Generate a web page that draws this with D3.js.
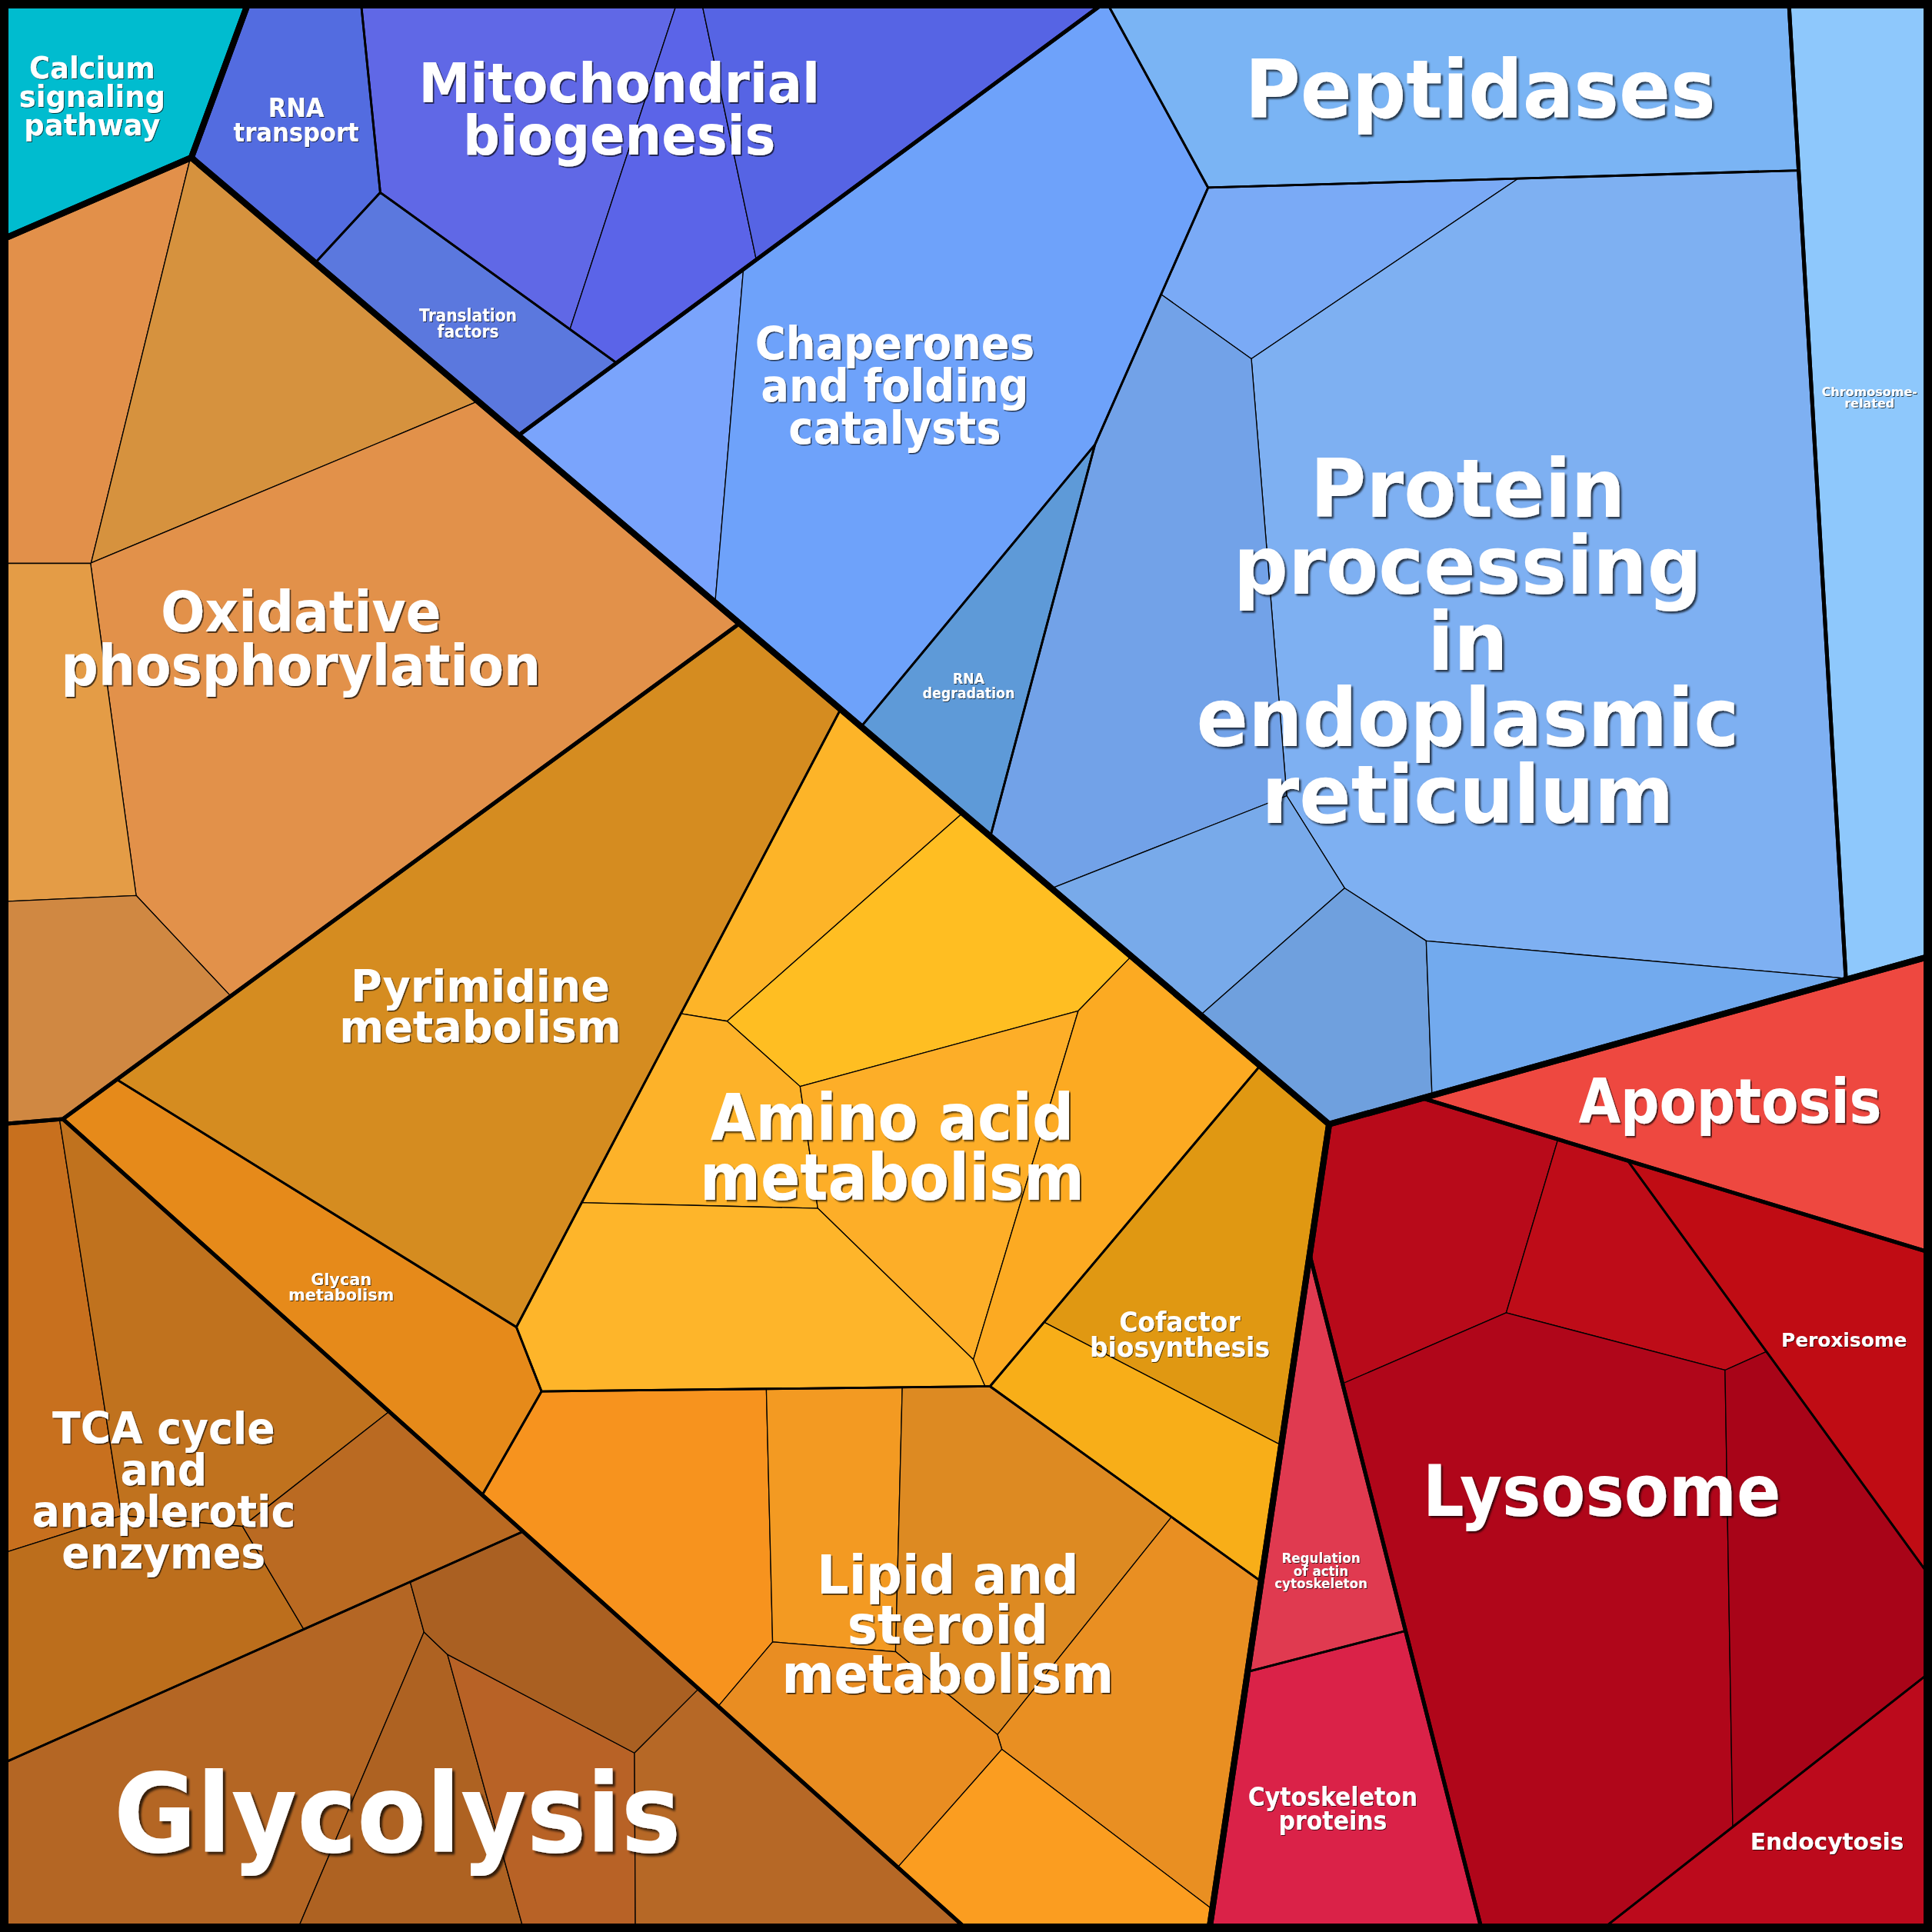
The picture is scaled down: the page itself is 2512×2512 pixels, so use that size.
<!DOCTYPE html>
<html>
<head>
<meta charset="utf-8">
<script src="https://cdn.jsdelivr.net/npm/d3@7"></script>
<style>
  html, body { margin: 0; padding: 0; background: #fff; }
</style>
</head>
<body>
<div id="chart"></div>
<script>
// proteome map: top categories -> subcategories -> pathways -> protein cells

const topCategories = ["Environmental information processing", "Genetic information processing", "Metabolism", "Cellular processes"];

const subCategories = ["Signal transduction", "Translation", "Folding, sorting and degradation", "Replication and repair",
  "Energy metabolism", "Biosynthesis", "Central carbon metabolism",
  "Cell growth and death", "Transport and catabolism", "Cell motility"];
const subCategoryParent = [0, 1, 1, 1, 2, 2, 2, 3, 3, 3];

const pathwayLabels = ["Calcium\nsignaling\npathway", "RNA\ntransport", "Translation\nfactors", "Mitochondrial\nbiogenesis",
  "Chaperones\nand folding\ncatalysts", "RNA\ndegradation", "Peptidases", "Protein\nprocessing\nin\nendoplasmic\nreticulum",
  "Chromosome-\nrelated", "Oxidative\nphosphorylation", "Pyrimidine\nmetabolism", "Glycan\nmetabolism",
  "Amino acid\nmetabolism", "Cofactor\nbiosynthesis", "Lipid and\nsteroid\nmetabolism", "TCA cycle\nand\nanaplerotic\nenzymes",
  "Glycolysis", "Apoptosis", "Lysosome", "Peroxisome", "Endocytosis", "Regulation\nof actin\ncytoskeleton", "Cytoskeleton\nproteins"];
const pathwayParent = [0, 1, 1, 1, 2, 2, 2, 2, 3, 4, 5, 5, 5, 5, 5, 6, 6, 7, 8, 8, 8, 9, 9];

// one entry per protein cell
const cellPathway = [0, 1, 2, 3, 3, 3, 4, 4, 5, 6, 7, 7, 7, 7, 7, 7, 8,
  9, 9, 9, 9, 9, 10, 11, 12, 12, 12, 12, 12, 12, 13, 13, 14, 14, 14, 14, 14, 14,
  15, 15, 15, 15, 16, 16, 16, 16, 16, 17, 18, 18, 18, 18, 19, 20, 21, 22];
const cellValue = [280, 226, 195, 454, 228, 347, 231, 1305, 204, 752, 217, 2619, 719, 211, 224, 214, 731,
  323, 463, 1405, 250, 238, 1401, 390, 214, 365, 200, 346, 311, 441, 369, 206, 402, 220, 395, 368, 232, 211,
  250, 424, 317, 202, 601, 240, 211, 206, 305, 498, 322, 210, 1195, 406, 326, 286, 208, 400];

// layout hints: power diagram sites for every level, in a 1568 x 1568 frame
const topSeeds = [[59, 38], [1042, 399], [494, 1044], [1254, 1157]];
const subSeeds = [[83, 78], [606, 23], [925, 455], [1524, 420], [222, 492], [605, 1015], [294, 1362],
  [1446, 898], [1331, 1276], [1072, 1342]];
const pathwaySeeds = [[83, 78], [236, 113], [395, 260], [522, 84], [693, 336], [845, 462], [1172, 74], [1186, 553],
  [1520, 360], [208, 503], [461, 759], [264, 1077], [724, 897], [927, 1068], [729, 1343], [182, 1166], [317, 1469],
  [1430, 894], [1283, 1232], [1488, 1083], [1486, 1491], [1052, 1238], [1109, 1458]];
const cellSeeds = [[83, 78], [240, 97], [375, 255], [417, 98], [536, 137], [701, 102], [538, 313], [762, 332], [796, 542],
  [1192, 71], [1111, 218], [1292, 486], [897, 518], [965, 691], [1077, 818], [1263, 811], [1520, 360],
  [53, 279], [204, 316], [308, 565], [53, 600], [62, 796], [412, 798], [267, 1042], [653, 715], [729, 801],
  [619, 924], [757, 904], [870, 938], [616, 1049], [996, 1029], [926, 1164], [510, 1254], [711, 1249],
  [829, 1252], [939, 1340], [698, 1413], [809, 1511], [52, 1099], [148, 1084], [126, 1333], [274, 1245],
  [176, 1431], [336, 1499], [412, 1478], [481, 1347], [611, 1477], [1430, 894], [1139, 985], [1340, 1045],
  [1274, 1297], [1452, 1294], [1486, 1080], [1478, 1498], [1073, 1232], [1088, 1463]];

const cellColors = ["#00bccf", "#536ce0", "#5b78de", "#6068e6", "#5b64e8", "#5664e4", "#7aa4fc", "#6ea2fa", "#5e9ad8",
  "#7ab4f4", "#7aaaf6", "#7eb0f2", "#72a2e8", "#78aaea", "#6fa0de", "#72aaee", "#8ec8fc",
  "#e2904a", "#d6923e", "#e2914a", "#e49c46", "#d08842", "#d58c20", "#e68a1a", "#fdb428", "#ffbe22",
  "#fdb229", "#fdae28", "#fcaa22", "#feb52a", "#e09812", "#f8ae18", "#f7931e", "#f39a22", "#dd8a22",
  "#e98f22", "#e98d22", "#fb9d20", "#c8701e", "#c0721e", "#bc6e1c", "#ba6a22", "#b46624", "#ae6222",
  "#b86226", "#aa6022", "#b66826", "#ee4840", "#b80a1a", "#be0c18", "#b0061a", "#a80418", "#c00c14",
  "#bc0a1c", "#e03a50", "#da2248"];

// label style per pathway: font size, horizontal stretch, nudge x, nudge y (frame units)
const labelStyle = [[24.5, .94, -8, 0], [21, .91, 0, 0], [14, .9, 5, 6], [45, .93, -35, -17], [36.5, .93, -5, 12],
  [12.5, .87, -11, 13], [65.5, .94, 9, 1], [66, .94, 13, 8], [10, 1, -3, -38], [46, .92, 35, 15], [35, .99, -23, 18],
  [13, 1, 7, 2], [52, .91, 12, 24], [22, .935, -11, 6], [43, .95, 20, -4], [36, .93, -10, 27], [89, .92, -33, 20],
  [50, .88, -26, -1], [58, .91, 7, -18], [15.5, 1, 11, 7], [18.5, 1, 5, -3], [11, .95, 0, 42], [21, .89, -6, 4]];

const size = 2512, frame = 1568;
const x = d3.scaleLinear().domain([0, frame]).range([0, size]);
const y = d3.scaleLinear().domain([0, frame]).range([0, size]);
const k = size / frame;

// build the hierarchy
const pathwayNodes = pathwayLabels.map((l, i) => ({name: l.replace(/\n/g, " "), pathway: i, seed: pathwaySeeds[i], children: []}));
cellValue.forEach((v, i) => pathwayNodes[cellPathway[i]].children.push({name: "cell" + i, index: i, seed: cellSeeds[i], value: v}));
const subNodes = subCategories.map((n, i) => ({name: n, seed: subSeeds[i], children: []}));
pathwayNodes.forEach((p, i) => subNodes[pathwayParent[i]].children.push(p));
const topNodes = topCategories.map((n, i) => ({name: n, seed: topSeeds[i], children: []}));
subNodes.forEach((s, i) => topNodes[subCategoryParent[i]].children.push(s));

const root = d3.hierarchy({name: "proteome", children: topNodes}).sum(d => d.value || 0);

// ---- power diagram helpers ----
function clipHalf(poly, a0, a1, b) {
  const out = [];
  for (let i = 0; i < poly.length; i++) {
    const P = poly[i], Q = poly[(i + 1) % poly.length];
    const dP = a0 * P[0] + a1 * P[1] - b, dQ = a0 * Q[0] + a1 * Q[1] - b;
    if (dP <= 0) out.push(P);
    if ((dP < 0 && dQ > 0) || (dP > 0 && dQ < 0)) {
      const t = dP / (dP - dQ);
      out.push([P[0] + t * (Q[0] - P[0]), P[1] + t * (Q[1] - P[1])]);
    }
  }
  return out;
}

const pow = (p, wi, m) => (m[0] - p[0]) ** 2 + (m[1] - p[1]) ** 2 - wi;

function powerCells(clip, sites, w) {
  return sites.map((p, i) => {
    let poly = clip;
    for (let j = 0; j < sites.length && poly.length > 2; j++) {
      if (j === i) continue;
      const q = sites[j];
      poly = clipHalf(poly, 2 * (q[0] - p[0]), 2 * (q[1] - p[1]),
        q[0] * q[0] + q[1] * q[1] - p[0] * p[0] - p[1] * p[1] - w[j] + w[i]);
    }
    return poly;
  });
}

// sites stay fixed, weights are tuned until every cell has its share of the area
function treemapLevel(clip, kids) {
  if (kids.length === 1) return [clip];
  const A = Math.abs(d3.polygonArea(clip));
  const total = d3.sum(kids, c => c.value);
  const target = kids.map(c => A * c.value / total);
  const sites = kids.map(c => c.data.seed.slice());
  const n = sites.length;
  const w = new Array(n).fill(0);
  for (let it = 0; it < 500; it++) {
    const cells = powerCells(clip, sites, w);
    const step = cells.map((c, i) => {
      const a = c.length > 2 ? Math.abs(d3.polygonArea(c)) : 0;
      if (a === 0) return target[i] * 0.5;
      let diag = 0;
      for (let e = 0; e < c.length; e++) {
        const P = c[e], Q = c[(e + 1) % c.length];
        const m = [(P[0] + Q[0]) / 2, (P[1] + Q[1]) / 2];
        const len = Math.hypot(Q[0] - P[0], Q[1] - P[1]);
        const pi = pow(sites[i], w[i], m);
        for (let j = 0; j < n; j++) {
          if (j === i) continue;
          if (Math.abs(pow(sites[j], w[j], m) - pi) < 1) {
            diag += len / (2 * Math.hypot(sites[j][0] - sites[i][0], sites[j][1] - sites[i][1]));
            break;
          }
        }
      }
      return diag > 0 ? 0.5 * (target[i] - a) / diag : 0;
    });
    step.forEach((s, i) => w[i] += s);
  }
  return powerCells(clip, sites, w);
}

root.polygon = [[0, 0], [frame, 0], [frame, frame], [0, frame]];
root.eachBefore(n => {
  if (!n.children) return;
  const polys = treemapLevel(n.polygon, n.children);
  n.children.forEach((c, i) => c.polygon = polys[i]);
});

// ---- drawing ----
const svg = d3.select("#chart").append("svg")
  .attr("width", size).attr("height", size)
  .style("display", "block");

const path = p => "M" + p.map(q => x(q[0]) + "," + y(q[1])).join("L") + "Z";

svg.append("g").selectAll("path")
  .data(root.leaves())
  .join("path")
    .attr("d", d => path(d.polygon))
    .attr("fill", d => cellColors[d.data.index])
    .attr("stroke", "#000")
    .attr("stroke-width", 1.3)
    .attr("stroke-linejoin", "round");

// borders of pathways, subcategories and categories
const borderWidth = {3: 2.8, 2: 5, 1: 8};
[3, 2, 1].forEach(depth => {
  svg.append("g").selectAll("path")
    .data(root.descendants().filter(d => d.depth === depth))
    .join("path")
      .attr("d", d => path(d.polygon))
      .attr("fill", "none")
      .attr("stroke", "#000")
      .attr("stroke-width", borderWidth[depth])
      .attr("stroke-linejoin", "round");
});

svg.append("rect")
  .attr("x", 0).attr("y", 0).attr("width", size).attr("height", size)
  .attr("fill", "none").attr("stroke", "#000").attr("stroke-width", 22);

// labels with a soft drop shadow
const defs = svg.append("defs");
const labels = svg.append("g")
  .attr("font-family", "'DejaVu Sans', sans-serif")
  .attr("font-weight", "bold")
  .attr("text-anchor", "middle")
  .attr("fill", "#fff");

root.descendants().filter(d => d.depth === 3).forEach(d => {
  const i = d.data.pathway;
  const [fs, sx, dx, dy] = labelStyle[i];
  const c = d3.polygonCentroid(d.polygon);
  const lines = pathwayLabels[i].split("\n");
  const lh = fs * 0.94;
  const fpx = fs * k;
  const off = Math.max(1, fpx * 0.025);
  defs.append("filter").attr("id", "sh" + i)
    .attr("x", "-10%").attr("y", "-10%").attr("width", "120%").attr("height", "120%")
    .append("feDropShadow")
      .attr("dx", off).attr("dy", off).attr("stdDeviation", off * 0.4)
      .attr("flood-color", "#000").attr("flood-opacity", 0.7);
  labels.append("text")
    .attr("transform", `translate(${x(c[0] + dx)},${y(c[1] + dy)}) scale(${sx},1)`)
    .attr("font-size", fpx)
    .attr("filter", `url(#sh${i})`)
    .selectAll("tspan")
    .data(lines)
    .join("tspan")
      .attr("x", 0)
      .attr("y", (t, j) => ((j - (lines.length - 1) / 2) * lh + fs * 0.36) * k)
      .text(t => t);
});
</script>
</body>
</html>
